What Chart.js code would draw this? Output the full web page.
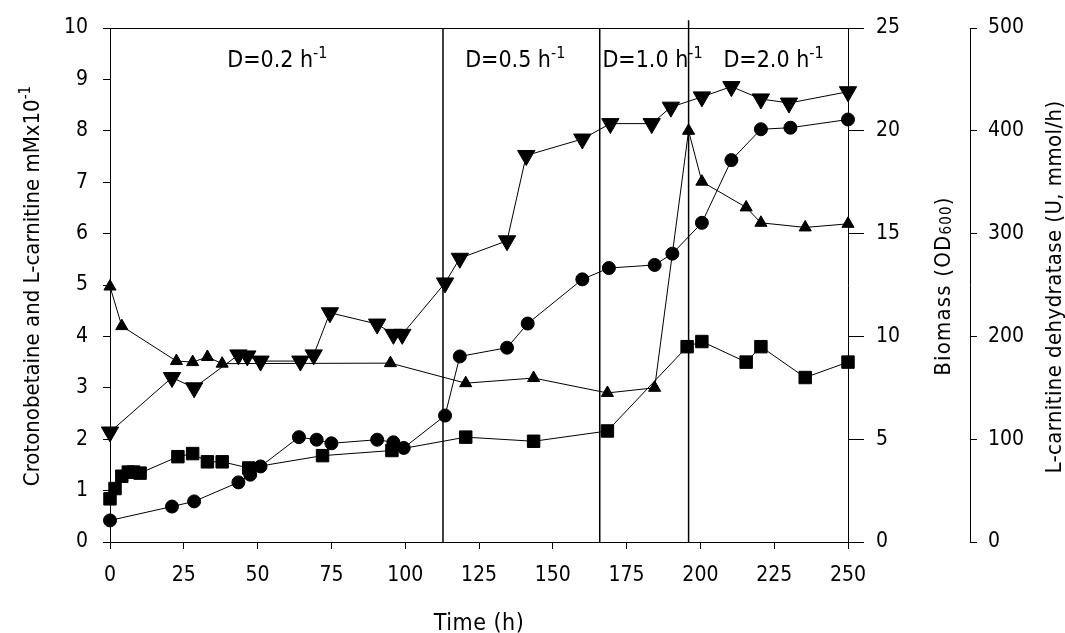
<!DOCTYPE html>
<html>
<head>
<meta charset="utf-8">
<script src="https://cdn.jsdelivr.net/npm/chart.js@4/dist/chart.umd.min.js"></script>
<style>
  html, body { margin: 0; padding: 0; background: #fff; }
  #wrap { width: 1065px; height: 633px; }
</style>
</head>
<body>
<div id="wrap"><canvas id="myChart" width="1065" height="633"></canvas></div>
<script>
  // time points (h) and values
  const carnitineTime = [0, 21, 28.5, 43.5, 47.5, 51, 64, 70, 75, 90.5, 96, 99.5, 113.5, 118.5, 134.5, 141.5, 160, 169, 184.5, 190.5, 200.5, 210.5, 220.5, 230.5, 250]
  const carnitine = [0.42, 0.69, 0.79, 1.16, 1.31, 1.47, 2.04, 1.99, 1.92, 1.99, 1.94, 1.83, 2.46, 3.61, 3.78, 4.25, 5.11, 5.33, 5.39, 5.61, 6.21, 7.43, 8.03, 8.06, 8.22]

  const crotonoTime = [0, 4, 22.5, 28, 33, 38, 95, 120.5, 143.5, 168.5, 184.5, 196, 200.5, 215.5, 220.5, 235.5, 250]
  const crotono = [4.97, 4.2, 3.52, 3.5, 3.6, 3.47, 3.48, 3.09, 3.19, 2.9, 3.0, 8.0, 7.01, 6.51, 6.21, 6.12, 6.19]

  // biomass, OD600
  const biomassTime = [0, 1.7, 4, 6.2, 8, 10.2, 23, 28, 33, 38, 47, 72, 95.5, 120.5, 143.5, 168.5, 195.5, 200.5, 215.5, 220.5, 235.5, 250]
  const biomass = [2.1, 2.6, 3.2, 3.4, 3.4, 3.35, 4.15, 4.3, 3.9, 3.9, 3.6, 4.2, 4.45, 5.1, 4.9, 5.4, 9.5, 9.75, 8.75, 9.5, 8.0, 8.75]

  // L-carnitine dehydratase, U
  const enzymeTime = [0, 21, 28.5, 43.5, 46.5, 51, 64.5, 69, 74.5, 90.5, 96, 99, 113.5, 118.5, 134.5, 141, 160, 169.5, 183.5, 190, 200.5, 210.5, 220.5, 230, 250]
  const enzyme = [107, 160, 150, 182, 181, 176, 176, 182, 223, 212, 202, 202, 252, 276, 293, 376, 392, 407, 407, 423, 433, 443, 431, 427, 438]

  // dilution rate changes
  const phaseStarts = [112.8, 165.9, 196]
  const phaseTops = [10, 10, 10.15]
  const phaseNames = ['D=0.2 h', 'D=0.5 h', 'D=1.0 h', 'D=2.0 h']
  const phaseLabelAt = [39.7, 120.3, 166.8, 207.8]

  const FONT = '"DejaVu Sans Condensed", "DejaVu Sans", sans-serif'

  const pts = (xs, ys) => xs.map((x, i) => ({ x: x, y: ys[i] }))

  function series(data, style, r, axis, rot) {
    return {
      data: data,
      yAxisID: axis,
      borderColor: '#000',
      borderWidth: 1,
      backgroundColor: '#000',
      pointBackgroundColor: '#000',
      pointBorderColor: '#000',
      pointBorderWidth: 1,
      pointStyle: style,
      pointRadius: r,
      pointRotation: rot || 0,
      tension: 0,
      clip: false
    }
  }

  // text with super/subscripts: parts = [text, size, rise]
  function richText(ctx, x, y, parts, align, angle, spacing) {
    ctx.save()
    ctx.translate(x, y)
    if (angle) ctx.rotate(angle)
    ctx.letterSpacing = (spacing || 0) + 'px'
    let total = 0
    const widths = parts.map(p => {
      ctx.font = p[1] + 'px ' + FONT
      const w = ctx.measureText(p[0]).width
      total += w
      return w
    })
    let cx = align === 'center' ? -total / 2 : 0
    ctx.fillStyle = '#000'
    ctx.textAlign = 'left'
    ctx.textBaseline = 'alphabetic'
    parts.forEach((p, i) => {
      ctx.font = p[1] + 'px ' + FONT
      ctx.fillText(p[0], cx, -p[2])
      cx += widths[i]
    })
    ctx.restore()
  }

  const overlay = {
    id: 'overlay',
    afterDraw(chart) {
      const { ctx, chartArea: a } = chart
      const xs = chart.scales.x
      ctx.save()
      ctx.strokeStyle = '#000'
      ctx.lineWidth = 1
      ctx.beginPath()
      ctx.moveTo(a.left, Math.round(a.top) + 0.5)
      ctx.lineTo(a.right, Math.round(a.top) + 0.5)
      ctx.stroke()
      ctx.restore()

      phaseNames.forEach((name, i) => {
        richText(ctx, xs.getPixelForValue(phaseLabelAt[i]), a.top + 39,
          [[name, 23, 0], ['-1', 16, 9]], 'left', 0, 0)
      })

      richText(ctx, 39, 286, [['Crotonobetaine and L-carnitine mMx10', 22, 0], ['-1', 15, 9]], 'center', -Math.PI / 2, 0)
      richText(ctx, 950, 286, [['Biomass (OD', 22, 0], ['600', 15, -1], [')', 22, 0]], 'center', -Math.PI / 2, 1.2)
      richText(ctx, 1061, 287, [['L-carnitine dehydratase (U, mmol/h)', 22, 0]], 'center', -Math.PI / 2, 0.4)
      richText(ctx, (a.left + a.right) / 2, 630, [['Time (h)', 23, 0]], 'center', 0, 0.5)
    }
  }

  const axisGrid = len => ({
    drawOnChartArea: false,
    drawTicks: true,
    tickLength: len,
    color: '#000',
    tickColor: '#000',
    lineWidth: 1
  })
  const axisBorder = { display: true, color: '#000', width: 1 }
  const tickFont = { family: FONT, size: 21 }

  const datasets = [
    series(pts(carnitineTime, carnitine), 'circle', 6.5, 'y'),
    series(pts(crotonoTime, crotono), 'triangle', 7, 'y'),
    series(pts(biomassTime, biomass), 'rect', 8.8, 'yBio'),
    series(pts(enzymeTime, enzyme), 'triangle', 10, 'yEnz', 180)
  ]
  phaseStarts.forEach((t, i) => {
    datasets.push({
      data: [{ x: t, y: 0 }, { x: t, y: phaseTops[i] }],
      yAxisID: 'y',
      borderColor: '#000',
      borderWidth: 1.5,
      pointRadius: 0,
      clip: false
    })
  })

  const ctx = document.getElementById('myChart')
  const myChart = new Chart(ctx, {
    type: 'line',
    data: { datasets: datasets },
    options: {
      responsive: false,
      animation: false,
      events: [],
      layout: { padding: { top: 28, left: 0, right: 0, bottom: 0 } },
      plugins: {
        legend: { display: false },
        tooltip: { enabled: false }
      },
      scales: {
        x: {
          type: 'linear',
          min: 0,
          max: 250,
          ticks: { stepSize: 25, color: '#000', font: tickFont, padding: 14, maxRotation: 0 },
          grid: axisGrid(7),
          border: axisBorder,
          afterFit: s => { s.height = 91 }
        },
        y: {
          position: 'left',
          min: 0,
          max: 10,
          ticks: { stepSize: 1, color: '#000', font: tickFont, padding: 15 },
          grid: axisGrid(7),
          border: axisBorder,
          afterFit: s => { s.width = 110 }
        },
        yBio: {
          position: 'right',
          weight: 1,
          min: 0,
          max: 25,
          ticks: { stepSize: 5, color: '#000', font: tickFont, padding: 12 },
          grid: axisGrid(16),
          border: axisBorder,
          afterFit: s => { s.width = 122 }
        },
        yEnz: {
          position: 'right',
          weight: 2,
          min: 0,
          max: 500,
          ticks: { stepSize: 100, color: '#000', font: tickFont, padding: 11 },
          grid: axisGrid(7),
          border: axisBorder,
          afterFit: s => { s.width = 95 }
        }
      }
    },
    plugins: [overlay]
  })
</script>
</body>
</html>
